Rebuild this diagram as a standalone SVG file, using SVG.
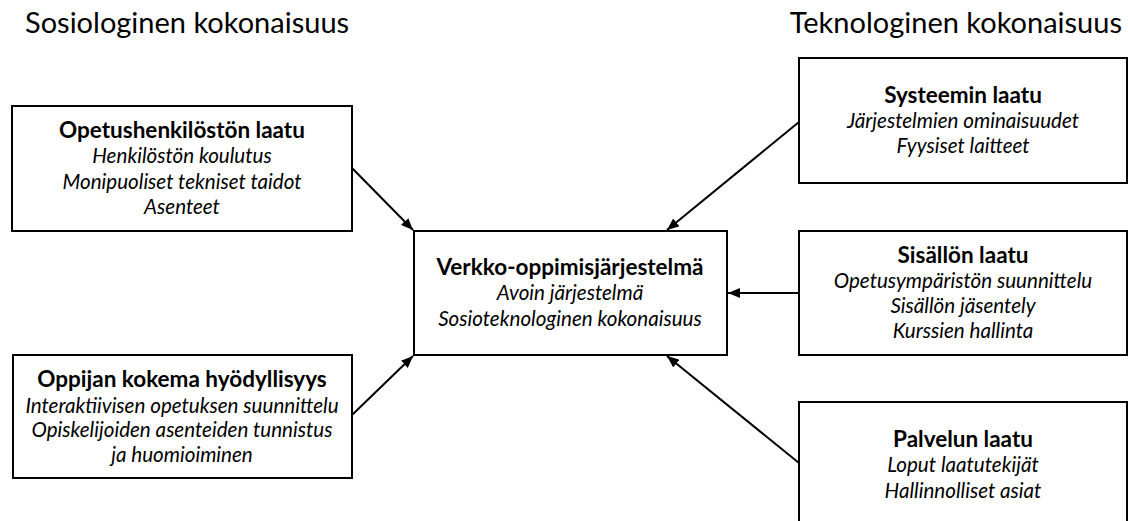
<svg xmlns="http://www.w3.org/2000/svg" width="1128" height="521" viewBox="0 0 1128 521">
  <style>
    .heading { font-family: Lato, "Open Sans", sans-serif; font-size: 29px; fill: #000; }
    .box { fill: #fff; stroke: #000; stroke-width: 2; }
    .title { font-family: Lato, "Open Sans", sans-serif; font-size: 22.5px; font-weight: bold; text-anchor: middle; fill: #000; }
    .item { font-family: Lato, "Open Sans", sans-serif; font-size: 20.6px; font-style: italic; text-anchor: middle; fill: #000; }
    .link { stroke: #000; stroke-width: 2; fill: none; marker-end: url(#arrow); }
  </style>
  <defs>
    <marker id="arrow" viewBox="0 0 12 10" refX="12" refY="5" markerWidth="12" markerHeight="10" markerUnits="userSpaceOnUse" orient="auto">
      <path d="M0,0 L12,5 L0,10 Z" fill="#000"/>
    </marker>
  </defs>
  <rect width="1128" height="521" fill="#fff"/>

  <text class="heading" x="25" y="33">Sosiologinen kokonaisuus</text>
  <text class="heading" x="1122" y="33" text-anchor="end">Teknologinen kokonaisuus</text>

  <g id="connectors">
    <line class="link" x1="352" y1="168" x2="413" y2="230"/>
    <line class="link" x1="352" y1="415" x2="413" y2="356"/>
    <line class="link" x1="799" y1="122" x2="667" y2="230"/>
    <line class="link" x1="799" y1="293" x2="728" y2="293"/>
    <line class="link" x1="799" y1="463" x2="667" y2="356"/>
  </g>

  <g id="opetushenkilosto">
    <rect class="box" x="12" y="106" width="340" height="125"/>
    <text class="title" x="182" y="138">Opetushenkilöstön laatu</text>
    <text class="item" x="182" y="163">Henkilöstön koulutus</text>
    <text class="item" x="182" y="189">Monipuoliset tekniset taidot</text>
    <text class="item" x="182" y="214">Asenteet</text>
  </g>

  <g id="oppija">
    <rect class="box" x="13" y="355" width="339" height="123"/>
    <text class="title" x="182" y="387">Oppijan kokema hyödyllisyys</text>
    <text class="item" x="182" y="413">Interaktiivisen opetuksen suunnittelu</text>
    <text class="item" x="182" y="437">Opiskelijoiden asenteiden tunnistus</text>
    <text class="item" x="182" y="462">ja huomioiminen</text>
  </g>

  <g id="verkko-oppimisjarjestelma">
    <rect class="box" x="414" y="231" width="313" height="124"/>
    <text class="title" x="570" y="275">Verkko-oppimisjärjestelmä</text>
    <text class="item" x="570" y="300">Avoin järjestelmä</text>
    <text class="item" x="570" y="326">Sosioteknologinen kokonaisuus</text>
  </g>

  <g id="systeemi">
    <rect class="box" x="799" y="58" width="328" height="125"/>
    <text class="title" x="963" y="103">Systeemin laatu</text>
    <text class="item" x="963" y="128">Järjestelmien ominaisuudet</text>
    <text class="item" x="963" y="153">Fyysiset laitteet</text>
  </g>

  <g id="sisalto">
    <rect class="box" x="799" y="231" width="328" height="124"/>
    <text class="title" x="963" y="263">Sisällön laatu</text>
    <text class="item" x="963" y="288">Opetusympäristön suunnittelu</text>
    <text class="item" x="963" y="313">Sisällön jäsentely</text>
    <text class="item" x="963" y="338">Kurssien hallinta</text>
  </g>

  <g id="palvelu">
    <rect class="box" x="799" y="402" width="328" height="130"/>
    <text class="title" x="963" y="447">Palvelun laatu</text>
    <text class="item" x="963" y="472">Loput laatutekijät</text>
    <text class="item" x="963" y="498">Hallinnolliset asiat</text>
  </g>
</svg>
